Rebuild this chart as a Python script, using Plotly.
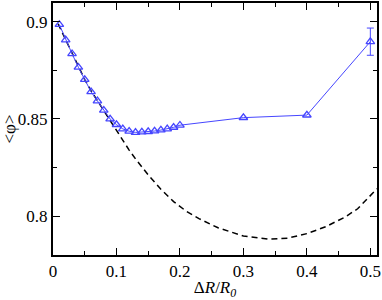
import plotly.graph_objects as go

# Simulation data (blue triangles)
dr = [0.01, 0.02, 0.03, 0.04, 0.05, 0.06, 0.07, 0.08, 0.09, 0.10,
      0.11, 0.12, 0.13, 0.14, 0.15, 0.16, 0.17, 0.18, 0.19, 0.20,
      0.30, 0.40, 0.50]
phi = [0.8986, 0.8907, 0.8836, 0.8766, 0.8703, 0.8640, 0.8593, 0.8545, 0.8500, 0.8471,
       0.8449, 0.8437, 0.8431, 0.8433, 0.8435, 0.8438, 0.8443, 0.8449, 0.8457, 0.8468,
       0.8507, 0.8520, 0.8898]
phi_err = [0, 0, 0, 0, 0, 0, 0, 0, 0, 0,
           0, 0, 0, 0, 0, 0, 0, 0, 0, 0,
           0, 0, 0.0070]

# Theory curve (black dashed)
th_x = [0.008, 0.02, 0.03, 0.04, 0.05, 0.06, 0.07, 0.08, 0.09, 0.10, 0.11, 0.12,
        0.13, 0.15, 0.17, 0.19, 0.21, 0.23, 0.26, 0.30, 0.34, 0.37, 0.40, 0.43,
        0.46, 0.48, 0.5105]
th_y = [0.8990, 0.8907, 0.8836, 0.8768, 0.8703, 0.8645, 0.8593, 0.8544, 0.8496, 0.8444, 0.8391, 0.8340,
        0.8295, 0.8212, 0.8138, 0.8075, 0.8025, 0.7987, 0.7940, 0.7898, 0.7881, 0.7887, 0.7910, 0.7946,
        0.7995, 0.8038, 0.8141]

blue = "rgb(70,70,255)"
font = dict(family="Liberation Serif, Times New Roman, serif", size=17, color="black")

fig = go.Figure()
fig.add_trace(go.Scatter(x=th_x, y=th_y, mode="lines",
                         line=dict(color="black", width=1.5, dash="6px,4px"),
                         hoverinfo="skip"))
fig.add_trace(go.Scatter(x=dr, y=phi, mode="lines+markers",
                         line=dict(color=blue, width=1),
                         marker=dict(symbol="triangle-up-open", size=7.5, color=blue, line=dict(width=1.3))))
fig.add_trace(go.Scatter(x=dr[-1:], y=phi[-1:], mode="markers",
                         marker=dict(size=1, color=blue, opacity=0),
                         error_y=dict(type="data", array=phi_err[-1:], color=blue, thickness=1, width=3.5)))

axis_common = dict(showline=True, linecolor="black", linewidth=2, mirror="allticks",
                   ticks="inside", tickcolor="black", tickwidth=1.2, ticklen=7,
                   showgrid=False, zeroline=False, tickfont=font)

fig.update_xaxes(range=[0, 0.5105], tickvals=[0, 0.1, 0.2, 0.3, 0.4, 0.5],
                 ticktext=["0", "0.1", "0.2", "0.3", "0.4", "0.5"],
                 minor=dict(tickvals=[0.05, 0.15, 0.25, 0.35, 0.45], ticks="inside", ticklen=4, tickcolor="black", tickwidth=1.2),
                 title=dict(text="Δ<i>R</i>/<i>R</i><sub><i>0</i></sub>", font=font, standoff=4),
                 **axis_common)
fig.update_yaxes(range=[0.78, 0.9097], tickvals=[0.8, 0.85, 0.9],
                 ticktext=["0.8", "0.85", "0.9"],
                 minor=dict(tickvals=[0.825, 0.875], ticks="inside", ticklen=4, tickcolor="black", tickwidth=1.2),
                 title=dict(text="&lt;φ&gt;", font=font, standoff=2),
                 **axis_common)

fig.update_layout(width=382, height=300, showlegend=False,
                  margin=dict(l=53, r=5, t=1, b=45),
                  plot_bgcolor="white", paper_bgcolor="white")

fig.write_html("out.html", config={"displayModeBar": False},
               post_script="document.body.style.margin='0';document.body.style.padding='0';")
